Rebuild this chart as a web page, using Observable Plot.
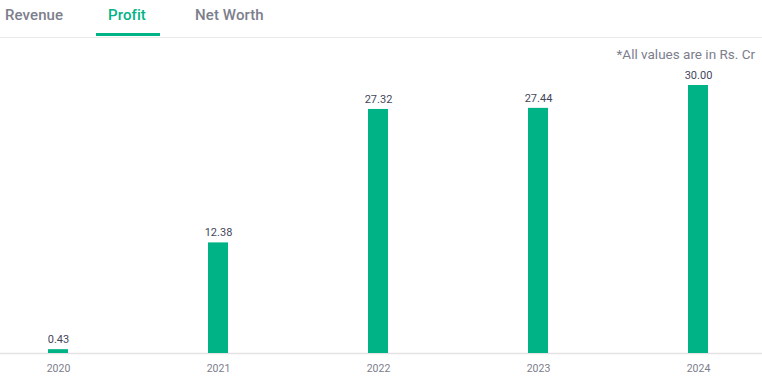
<!DOCTYPE html>
<html>
<head>
<meta charset="utf-8">
<script src="https://cdn.jsdelivr.net/npm/d3@7"></script>
<script src="https://cdn.jsdelivr.net/npm/@observablehq/plot@0.6"></script>
<style>
  html, body { margin: 0; padding: 0; background: #fff; }
  body { width: 762px; height: 379px; position: relative; overflow: hidden; font-family: Roboto, "Noto Sans", sans-serif; }
  .tabs { position: relative; height: 37px; border-bottom: 1px solid #e9e9eb; }
  .tab { position: absolute; top: 6px; font-size: 15px; font-weight: 500; color: #7c7e8c; letter-spacing: 0.1px; }
  .tab.active { color: #00b386; }
  .underline { position: absolute; left: 96px; width: 64px; top: 33px; height: 3px; background: #00b386; }
  .note { position: absolute; right: 7px; top: 46px; font-size: 13.5px; color: #7c7e8c; }
  #chart { position: absolute; left: 0; top: 38px; }
</style>
</head>
<body>
<div class="tabs">
  <span class="tab" style="left:5px">Revenue</span>
  <span class="tab active" style="left:108px">Profit</span>
  <span class="tab" style="left:195px">Net Worth</span>
  <div class="underline"></div>
</div>
<div class="note">*All values are in Rs. Cr</div>
<div id="chart"></div>
<script>
const years = ["2020", "2021", "2022", "2023", "2024"];
const profit = [0.43, 12.38, 27.32, 27.44, 30.00];
const data = years.map((y, i) => ({year: y, value: profit[i]}));

const chart = Plot.plot({
  width: 762,
  height: 341,
  marginTop: 47,
  marginBottom: 26,
  marginLeft: 0,
  marginRight: 0,
  style: {fontFamily: "Roboto, 'Noto Sans', sans-serif", background: "transparent"},
  x: {domain: years, range: [-22, 778], padding: 0, axis: null},
  y: {domain: [0, 30], axis: null},
  marks: [
    Plot.ruleY([0], {stroke: "#e3e3e6", strokeWidth: 1.5}),
    Plot.barY(data, {x: "year", y: "value", fill: "#00b386", insetLeft: 70, insetRight: 70}),
    Plot.text(data, {x: "year", y: "value", text: d => d.value.toFixed(2), dy: -10, fontSize: 11, fill: "#44475b"}),
    Plot.text(data, {x: "year", y: 0, text: "year", dy: 15, fontSize: 10.5, fill: "#7c7e8c"})
  ]
});
document.getElementById("chart").appendChild(chart);
</script>
</body>
</html>
